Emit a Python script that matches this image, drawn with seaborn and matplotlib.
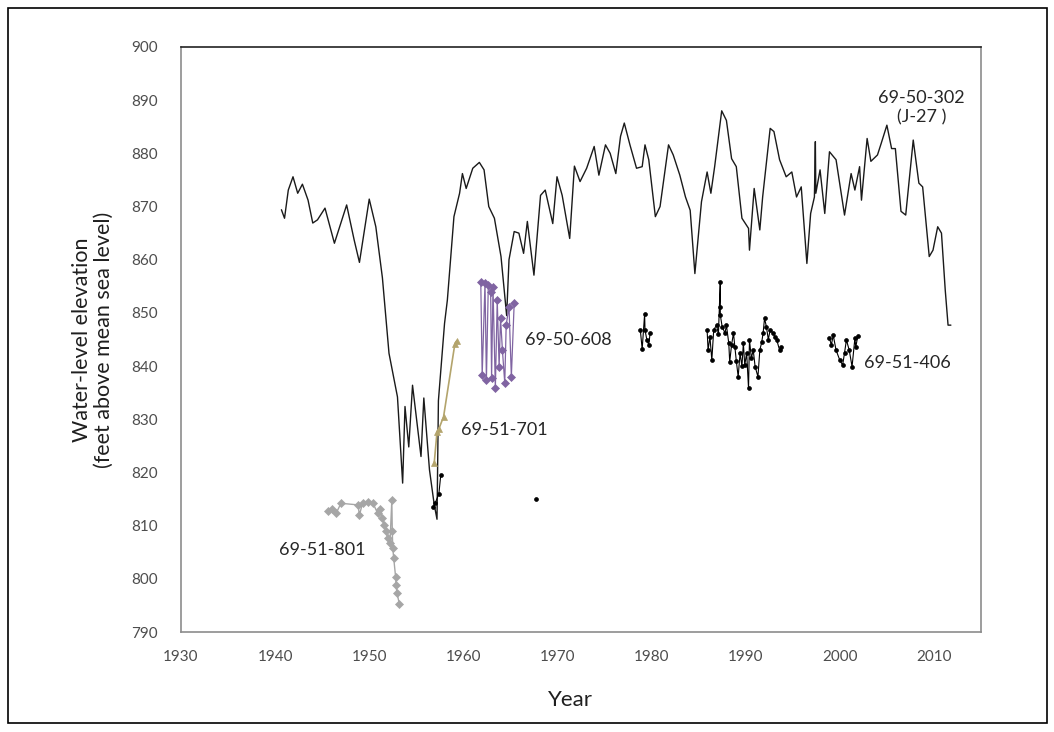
import numpy as np
import pandas as pd
import matplotlib
matplotlib.use("Agg")
import matplotlib.pyplot as plt
import seaborn as sns
from matplotlib.patches import Rectangle

# ---------------- data ----------------
# 69-50-302 (J-27) continuous hydrograph
j27_year = [1940.67, 1941.0, 1941.4, 1941.9, 1942.4, 1942.9, 1943.5, 1944.0, 1944.5, 1945.3,
            1946.3, 1947.6, 1948.4, 1948.96, 1950.0, 1950.7, 1951.4, 1952.1, 1953.0, 1953.55,
            1953.8, 1954.2, 1954.6, 1955.5, 1955.8, 1956.4, 1956.9, 1957.2, 1957.35, 1958.0,
            1958.3, 1959.0, 1959.6, 1959.9, 1960.3, 1961.0, 1961.7, 1962.2, 1962.7, 1963.3,
            1964.0, 1964.6, 1964.85, 1965.4, 1965.9, 1966.4, 1966.8, 1967.5, 1968.2, 1968.7,
            1969.5, 1969.95, 1970.5, 1971.3, 1971.8, 1972.4, 1973.1, 1973.9, 1974.4, 1975.1,
            1975.6, 1976.2, 1976.7, 1977.1, 1977.7, 1978.4, 1979.0, 1979.3, 1979.7, 1980.4,
            1980.9, 1981.8, 1982.3, 1983.0, 1983.6, 1984.1, 1984.6, 1985.3, 1985.9, 1986.3,
            1986.7, 1987.45, 1987.95, 1988.5, 1989.0, 1989.6, 1990.3, 1990.4, 1990.9, 1991.5,
            1991.8, 1992.6, 1993.0, 1993.6, 1994.3, 1994.9, 1995.4, 1995.9, 1996.5, 1996.9,
            1997.3, 1997.4, 1997.45, 1997.9, 1998.4, 1998.9, 1999.6, 2000.5, 2001.2, 2001.6,
            2002.1, 2002.3, 2002.9, 2003.3, 2004.0, 2004.4, 2005.0, 2005.5, 2005.9, 2006.5,
            2007.0, 2007.8, 2008.4, 2008.8, 2009.5, 2009.9, 2010.4, 2010.8, 2011.2, 2011.5,
            2011.8]
j27_level = [869.4, 867.8, 873.1, 875.6, 872.5, 874.2, 871.2, 866.9, 867.5, 869.7,
             863.1, 870.3, 863.7, 859.5, 871.4, 866.2, 856.6, 842.4, 834.2, 818.0,
             832.4, 824.8, 836.4, 823.0, 834.0, 820.5, 814.0, 811.2, 833.5, 848.0,
             852.4, 868.1, 872.5, 876.2, 873.4, 877.2, 878.3, 876.9, 870.0, 867.8,
             860.6, 849.5, 860.0, 865.3, 865.0, 861.2, 867.2, 857.1, 872.1, 873.1,
             866.8, 875.6, 872.1, 864.0, 877.6, 874.7, 877.2, 881.3, 875.9, 881.6,
             880.0, 876.2, 883.2, 885.7, 881.6, 877.2, 877.5, 881.6, 878.8, 868.1,
             870.0, 881.6, 879.7, 875.9, 871.8, 869.3, 857.4, 870.9, 876.5, 872.5,
             877.5, 888.0, 886.2, 879.0, 877.5, 867.8, 865.9, 861.8, 873.4, 865.6,
             871.8, 884.7, 884.1, 878.8, 875.6, 876.5, 871.8, 873.7, 859.3, 868.7,
             871.8, 882.2, 872.5, 876.9, 868.7, 880.3, 878.8, 868.4, 876.2, 873.1,
             877.5, 871.2, 882.8, 878.5, 879.7, 881.9, 885.3, 880.9, 880.9, 869.1,
             868.4, 882.5, 874.4, 873.7, 860.6, 861.8, 866.2, 865.0, 854.3, 847.7,
             847.7]

# 69-51-801 (gray diamonds)
w801_year = [1945.6, 1946.0, 1946.5, 1947.0, 1948.8, 1948.96, 1949.3, 1949.85, 1950.4, 1950.9,
             1951.1, 1951.4, 1951.6, 1951.8, 1951.96, 1952.2, 1952.4, 1952.45, 1952.5, 1952.6,
             1952.8, 1952.85, 1952.95, 1953.2]
w801_level = [812.8, 813.2, 812.4, 814.2, 813.9, 812.0, 814.3, 814.5, 814.2, 812.3,
              813.2, 811.4, 810.1, 808.9, 807.6, 806.7, 814.8, 808.9, 805.8, 803.9,
              800.4, 798.8, 797.3, 795.3]

# 69-51-701 (tan triangles)
w701_year = [1956.9, 1957.2, 1957.4, 1957.9, 1959.1, 1959.3]
w701_level = [821.7, 827.6, 828.2, 830.5, 844.2, 844.8]

# 69-50-608 (purple diamonds)
w608_year = [1961.85, 1962.0, 1962.3, 1962.45, 1962.65, 1962.9, 1963.0, 1963.15, 1963.4, 1963.6,
             1963.8, 1963.95, 1964.15, 1964.4, 1964.55, 1964.85, 1965.1, 1965.4]
w608_level = [855.9, 838.3, 855.6, 837.4, 855.2, 854.0, 837.7, 854.9, 835.8, 852.4,
              839.9, 849.0, 843.0, 836.8, 847.7, 851.2, 838.0, 851.8]

# 69-51-406 and other black dot records (clusters)
dotA_year = [1956.8, 1957.0, 1957.4, 1957.6]
dotA_level = [813.5, 814.2, 816.0, 819.5]
dotB_year = [1967.7]
dotB_level = [815.0]
dotC_year = [1978.8, 1979.0, 1979.26, 1979.3, 1979.5, 1979.7, 1979.85]
dotC_level = [846.8, 843.2, 849.8, 846.8, 844.9, 844.0, 846.3]
dotD_year = [1985.9, 1986.0, 1986.2, 1986.4, 1986.6, 1986.9, 1987.1, 1987.3, 1987.3, 1987.3,
             1987.5, 1987.8, 1987.95, 1988.2, 1988.3, 1988.5, 1988.7, 1988.85, 1989.0, 1989.2,
             1989.4, 1989.6, 1989.75, 1989.9, 1990.1, 1990.3, 1990.4, 1990.6, 1990.8, 1991.0,
             1991.3, 1991.5, 1991.7, 1991.85, 1992.0, 1992.2, 1992.4, 1992.6, 1992.9, 1993.1,
             1993.3, 1993.6, 1993.8]
dotD_level = [846.8, 843.0, 845.5, 841.1, 846.8, 847.7, 846.0, 855.9, 851.2, 849.6,
              847.4, 846.2, 847.7, 844.3, 840.8, 844.0, 846.2, 843.6, 841.0, 838.0,
              842.4, 840.0, 844.3, 840.2, 842.5, 835.8, 844.9, 841.5, 843.0, 839.9,
              838.0, 843.0, 844.5, 846.2, 849.0, 847.4, 845.0, 846.8, 846.2, 845.5,
              844.9, 843.0, 843.6]
dotE_year = [1998.9, 1999.1, 1999.3, 1999.6, 2000.0, 2000.3, 2000.5, 2000.7, 2001.0, 2001.3,
             2001.6, 2001.7, 2001.9]
dotE_level = [845.2, 844.0, 845.8, 843.0, 841.1, 840.2, 842.5, 844.9, 843.0, 839.9,
              845.2, 843.6, 845.6]

x_ticks = [1930, 1940, 1950, 1960, 1970, 1980, 1990, 2000, 2010]
y_ticks = [790, 800, 810, 820, 830, 840, 850, 860, 870, 880, 890, 900]

# ---------------- style ----------------
sns.set_style("white")
plt.rcParams['font.family'] = ['Lato', 'DejaVu Sans']

fig = plt.figure(figsize=(10.54, 7.32), dpi=100)
ax = fig.add_axes([181/1054, 1-632/732, 800/1054, 585/732])

def draw(xs, ys, color, marker, ms, lw, mec=None):
    df = pd.DataFrame({"x": xs, "y": ys})
    sns.lineplot(data=df, x="x", y="y", ax=ax, sort=False, estimator=None,
                 color=color, linewidth=lw, marker=marker, markersize=ms,
                 markeredgecolor=mec if mec else color, markeredgewidth=0.5)

draw(j27_year, j27_level, "#1a1a1a", None, 0, 1.0)
draw(w801_year, w801_level, "#a6a6a6", "D", 4.0, 1.0)
draw(w701_year, w701_level, "#b3a46c", "^", 4.0, 1.2)
draw(w608_year, w608_level, "#8064a2", "D", 3.6, 0.9)
for xs, ys in [(dotA_year, dotA_level), (dotB_year, dotB_level), (dotC_year, dotC_level),
               (dotD_year, dotD_level), (dotE_year, dotE_level)]:
    draw(xs, ys, "#000000", "o", 2.8, 0.8)

ax.set_xlim(1930, 2015)
ax.set_ylim(790, 900)
ax.set_xticks(x_ticks)
ax.set_yticks(y_ticks)
ax.tick_params(axis='both', length=0, labelsize=11, labelcolor="#4d4d4d")
ax.tick_params(axis='x', pad=13)
ax.tick_params(axis='y', pad=17)
ax.set_xlabel("Year", fontsize=16, color="#1f1f1f")
ax.xaxis.set_label_coords((570 - 181) / 800, -(690 - 632) / 585)
ax.set_ylabel("Water-level elevation\n(feet above mean sea level)", fontsize=15.5,
              color="#1f1f1f", linespacing=1.15)
ax.yaxis.set_label_coords(-(181 - 114) / 800, 0.5)
for s in ["left", "bottom", "right"]:
    ax.spines[s].set_color("#8c8c8c")
    ax.spines[s].set_linewidth(1.2)
ax.spines["top"].set_color("#222222")
ax.spines["top"].set_linewidth(1.2)
ax.grid(False)

lab = dict(fontsize=13, color="#262626")
ax.text(1940.4, 805.4, "69-51-801", ha="left", va="center", **lab)
ax.text(1959.7, 828.0, "69-51-701", ha="left", va="center", **lab)
ax.text(1966.6, 844.9, "69-50-608", ha="left", va="center", **lab)
ax.text(2002.6, 840.6, "69-51-406", ha="left", va="center", **lab)
ax.text(2008.7, 890.4, "69-50-302", ha="center", va="center", **lab)
ax.text(2008.7, 886.7, "(J-27 )", ha="center", va="center", **lab)

fig.patches.append(Rectangle((8/1054, 1-723/732), 1039/1054, 715/732,
                             transform=fig.transFigure, fill=False,
                             edgecolor="#000000", linewidth=1.2))

fig.savefig("out.png", dpi=100)
